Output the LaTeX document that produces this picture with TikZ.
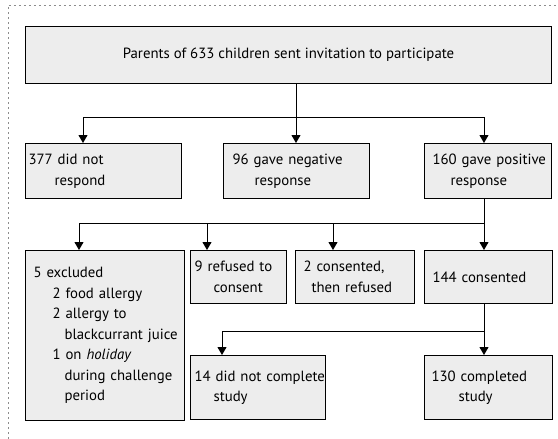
\documentclass[tikz,border=0pt]{standalone}
\usepackage{fontspec}
\setmainfont{PT Sans}
\usetikzlibrary{arrows.meta}
\newcommand{\fs}{\fontsize{14.8}{20.5}\selectfont}
\begin{document}
\begin{tikzpicture}[x=1pt,y=-1pt,
  box/.style={draw=black, line width=1.1pt, fill=black!7, anchor=north west,
    inner ysep=0pt, align=left, font=\fs},
  conn/.style={draw=black, line width=1pt},
  arr/.style={conn, -{Triangle[width=9pt,length=8pt]}},
  scan/.style={draw=black!45, line width=0.8pt, dash pattern=on 2pt off 3pt}]
\useasboundingbox (0,0) rectangle (558,439);
% scan edges
\draw[scan] (8,439) -- (8,5) -- (558,5);
% boxes
\node[box, align=center, minimum width=526pt, minimum height=57pt, inner xsep=0pt] (top) at (25,26)
  {Parents of 633 children sent invitation to participate};
\node[box, text width=150pt, inner xsep=3pt, minimum height=55pt] (A) at (25,143)
  {\mbox{377 did not}\\\hspace*{26pt}respond};
\node[box, text width=128pt, inner xsep=9pt, minimum height=55pt] (B) at (223,143)
  {\mbox{96 gave negative}\\\hspace*{22pt}response};
\node[box, text width=111pt, inner xsep=8pt, minimum height=55pt] (C) at (424,143)
  {\mbox{160 gave positive}\\\hspace*{18pt}response};
\node[box, text width=143pt, inner xsep=8pt, minimum height=170pt] (D1) at (25,250)
  {\mbox{5 excluded}\\
   \hspace*{19pt}\mbox{2 food allergy}\\
   \hspace*{19pt}\mbox{2 allergy to}\\
   \hspace*{31pt}\mbox{blackcurrant juice}\\
   \hspace*{19pt}\mbox{1 on \textit{holiday}}\\
   \hspace*{31pt}\mbox{during challenge}\\
   \hspace*{31pt}period\par\vspace{18pt}};
\node[box, text width=88pt, inner xsep=4pt, minimum height=53pt] (D2) at (190,250)
  {\mbox{9 refused to}\\\hspace*{19pt}consent};
\node[box, text width=103pt, inner xsep=8pt, minimum height=53pt] (D3) at (295,250)
  {\mbox{2 consented,}\\\hspace*{8pt}\mbox{then refused}};
\node[box, text width=112pt, inner xsep=8pt, minimum height=53pt] (D4) at (424,250)
  {\mbox{144 consented}};
\node[box, text width=127pt, inner xsep=4pt, minimum height=64pt] (F1) at (190,355)
  {\mbox{14 did not complete}\\\hspace*{19pt}study};
\node[box, text width=114pt, inner xsep=7pt, minimum height=64pt] (F2) at (424,355)
  {\mbox{130 completed}\\\hspace*{27pt}study};
% junction coordinates
\coordinate (j1) at (296,117);
\coordinate (j1a) at (83,117);
\coordinate (j1c) at (484,117);
\coordinate (j2) at (484,223);
\coordinate (j2a) at (79,223);
\coordinate (j2b) at (207,223);
\coordinate (j2c) at (333,223);
\coordinate (j3) at (484,331);
\coordinate (j3a) at (222,331);
% connectors
\draw[conn] (top.south -| j1) -- (j1);
\draw[conn] (j1a) -- (j1c);
\draw[arr] (j1a) -- (j1a |- A.north);
\draw[arr] (j1) -- (j1 |- B.north);
\draw[arr] (j1c) -- (j1c |- C.north);
\draw[arr] (C.south -| j2) -- (j2 |- D4.north);
\draw[conn] (j2a) -- (j2);
\draw[arr] (j2a) -- (j2a |- D1.north);
\draw[arr] (j2b) -- (j2b |- D2.north);
\draw[arr] (j2c) -- (j2c |- D3.north);
\draw[arr] (D4.south -| j3) -- (j3 |- F2.north);
\draw[conn] (j3a) -- (j3);
\draw[arr] (j3a) -- (j3a |- F1.north);
\end{tikzpicture}
\end{document}
